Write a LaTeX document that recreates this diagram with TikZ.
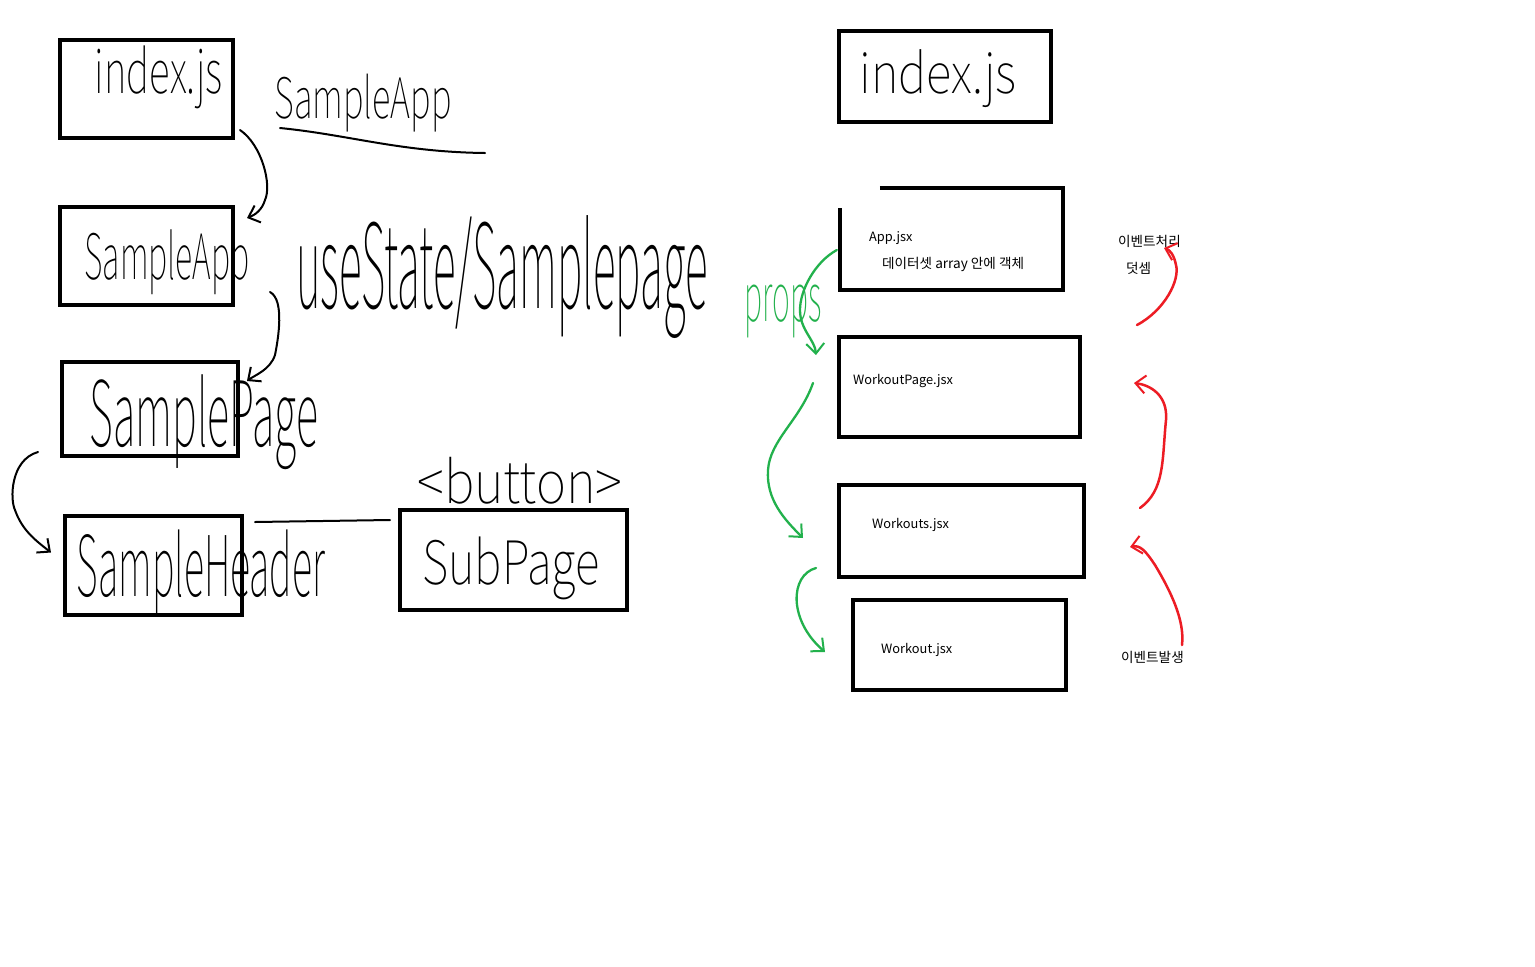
\documentclass[tikz,border=0pt]{standalone}
\usepackage{fontspec}
\usepackage{graphicx}
\newfontfamily\kr{Noto Sans CJK KR}
\IfFontExistsTF{Noto Sans CJK KR Thin}{\newfontfamily\handfont{Noto Sans CJK KR Thin}}{%
 \IfFontExistsTF{Lato Light}{\newfontfamily\handfont{Lato Light}}{%
  \IfFontExistsTF{Open Sans Light}{\newfontfamily\handfont{Open Sans Light}}{%
   \newcommand\handfont{\sffamily}}}}
\usetikzlibrary{arrows.meta,calc}
\definecolor{pgreen}{RGB}{34,177,76}
\definecolor{pred}{RGB}{237,28,36}
\newcommand\hw[3]{\resizebox*{#1pt}{#2pt}{\handfont #3}}
\tikzset{
  box/.style={draw, line width=4pt, inner sep=0pt},
  hand/.style={inner sep=0pt},
  ink/.style={line width=2pt, line cap=round, line join=round},
  arr/.style={ink, -{Straight Barb[length=10pt,width=18pt,line width=2pt]}},
  garr/.style={arr, pgreen, line width=2.3pt},
  rarr/.style={arr, pred, line width=2.5pt},
  small/.style={inner sep=0pt, font=\kr\fontsize{12.8}{14}\selectfont},
}
\newcommand\krb{\fontsize{13.6}{15}\selectfont}
\begin{document}
\begin{tikzpicture}[x=1pt,y=-1pt]
\fill[white] (0,0) rectangle (1535,967);
\useasboundingbox (0,0) rectangle (1535,967);

% left boxes
\node[box, minimum width=173pt, minimum height=98pt] (idxL) at (146.5,89) {};
\node[box, minimum width=173pt, minimum height=98pt] (appL) at (146.5,256) {};
\node[box, minimum width=176pt, minimum height=94pt] (pageL) at (150,409) {};
\node[box, minimum width=177pt, minimum height=99pt] (headL) at (153.5,565.5) {};
\node[box, minimum width=227pt, minimum height=100pt] (subL) at (513.5,560) {};

% handwritten texts
\node[hand] (tidxL) at (159,77) {\hw{128}{63}{index.js}};
\node[hand] (tsa) at (363,103) {\hw{177}{58}{SampleApp}};
\draw[ink] (280,128) .. controls (350,135) and (400,152) .. (485,153);
\node[hand] (tappL) at (167,262) {\hw{165}{65}{SampleApp}};
\node[hand] (tus) at (502,277) {\hw{411}{123}{useState/Samplepage}};
\node[hand] (tpageL) at (204,422) {\hw{228}{95}{SamplePage}};
\node[hand] (tbtn) at (520,481) {\hw{205}{47}{<button>}};
\node[hand] (theadL) at (201,573) {\hw{248}{87}{SampleHeader}};
\node[hand] (tsubL) at (511,568) {\hw{177}{63}{SubPage}};

% left connectors
\coordinate (c1a) at ($(idxL.south east)+(5,-10)$);
\coordinate (c1b) at ($(appL.north east)+(12,13)$);
\draw[arr] (c1a) .. controls (262,145) and (272,185) .. (265,200) .. controls (262,210) and (255,215) .. (c1b);
\coordinate (c2a) at ($(appL.south east)+(35,-15)$);
\coordinate (c2b) at ($(pageL.north east)+(7,21)$);
\draw[arr] (c2a) .. controls (285,300) and (278,340) .. (275,355) .. controls (270,370) and (255,375) .. (c2b);
\coordinate (c3a) at ($(pageL.south west)+(-22,-6)$);
\coordinate (c3b) at ($(headL.west)+(-12,-13)$);
\draw[arr] (c3a) .. controls (10,460) and (10,500) .. (15,510) .. controls (22,530) and (35,540) .. (c3b);
\draw[ink] ($(headL.north east)+(11,8)$) -- ($(subL.north west)+(-8,12)$);

% right boxes
\node[box, minimum width=212pt, minimum height=91pt] (idxR) at (945,76.5) {};
\node[hand] (tidxR) at (938,79) {\hw{157}{58}{index.js}};
\node[inner sep=0pt, minimum width=223pt, minimum height=102pt] (appR) at (951.5,239) {};
\draw[line width=4pt] ($(appR.north west)+(40,0)$) -- (appR.north east) -- (appR.south east) -- (appR.south west) -- ($(appR.north west)+(0,20)$);
\node[box, minimum width=241pt, minimum height=100pt] (wpR) at (959.5,387) {};
\node[box, minimum width=245pt, minimum height=92pt] (wsR) at (961.5,531) {};
\node[box, minimum width=213pt, minimum height=90pt] (wR) at (959.5,645) {};

\node[small, anchor=base west] (tapp) at (869,241) {App.jsx};
\node[small, anchor=base west] (tdata) at (882,268) {\krb 데이터셋 array 안에 객체};
\node[small, anchor=base west] (twp) at (853,384) {WorkoutPage.jsx};
\node[small, anchor=base west] (tws) at (872,528) {Workouts.jsx};
\node[small, anchor=base west] (tw) at (881,653) {Workout.jsx};
\node[small, anchor=base west] (tev1) at (1118,246) {\krb 이벤트처리};
\node[small, anchor=base west] (tadd) at (1126,273) {\krb 덧셈};
\node[small, anchor=base west] (tev2) at (1121,662) {\krb 이벤트발생};
\node[hand, text=pgreen] (tprops) at (783,311) {\hw{77}{53}{props}};

% green connectors
\coordinate (g1a) at ($(appR.west)+(-3,11)$);
\coordinate (g1b) at ($(wpR.north west)+(-21,20)$);
\draw[garr] (g1a) .. controls (815,262) and (800,290) .. (800,310) .. controls (800,330) and (815,340) .. (g1b);
\coordinate (g2a) at ($(wpR.west)+(-24,-4)$);
\coordinate (g2b) at ($(wsR.west)+(-34,7)$);
\draw[garr] (g2a) .. controls (800,420) and (770,440) .. (768,470) .. controls (766,500) and (785,520) .. (g2b);
\coordinate (g3a) at ($(wR.north west)+(-35,-30)$);
\coordinate (g3b) at ($(wR.west)+(-26,7)$);
\draw[garr] (g3a) .. controls (790,575) and (788,620) .. (g3b);

% red connectors
\coordinate (r1a) at (1137,325);
\coordinate (r1b) at (1164,248);
\draw[rarr] (r1a) .. controls (1165,310) and (1180,280) .. (1176,265) .. controls (1174,255) and (1170,250) .. (r1b);
\coordinate (r2a) at (1140,508);
\coordinate (r2b) at ($(wpR.east)+(52,-4)$);
\draw[rarr] (r2a) .. controls (1165,490) and (1162,460) .. (1166,420) .. controls (1168,395) and (1150,385) .. (r2b);
\coordinate (r3a) at (1182,645);
\coordinate (r3b) at ($(wsR.south east)+(44,-32)$);
\draw[rarr] (r3a) .. controls (1185,620) and (1170,590) .. (1155,565) .. controls (1145,550) and (1140,545) .. (r3b);
\end{tikzpicture}
\end{document}
